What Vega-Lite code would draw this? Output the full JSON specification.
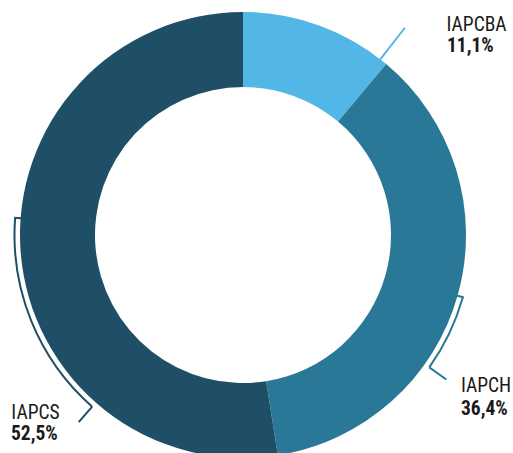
{
  "$schema": "https://vega.github.io/schema/vega-lite/v6.json",
  "width": 486,
  "height": 436,
  "autosize": "none",
  "padding": {"left": 0, "top": 17, "right": 27, "bottom": 0},
  "background": "white",
  "config": {
    "view": {"stroke": null},
    "locale": {"number": {"decimal": ",", "thousands": ".", "grouping": [3], "currency": ["", " €"]}}
  },
  "data": {"values": [
    {"category": "IAPCBA", "share": 0.111},
    {"category": "IAPCH", "share": 0.364},
    {"category": "IAPCS", "share": 0.525}
  ]},
  "transform": [
    {"stack": "share", "groupby": [], "as": ["s0", "s1"], "sort": [{"field": "category", "order": "ascending"}]}
  ],
  "layer": [
    {
      "mark": {"type": "arc", "innerRadius": 148, "outerRadius": 223},
      "encoding": {
        "theta": {"field": "s0", "type": "quantitative", "stack": null, "scale": {"domain": [0, 1]}},
        "theta2": {"field": "s1"},
        "color": {"field": "category", "type": "nominal", "legend": null,
          "scale": {"domain": ["IAPCBA", "IAPCH", "IAPCS"], "range": ["#52b6e6", "#2a7898", "#1f4f67"]}}
      }
    },
    {
      "transform": [{"filter": "datum.category === 'IAPCH'"}],
      "mark": {"type": "arc", "filled": false, "strokeWidth": 2, "innerRadius": 228.5, "outerRadius": 228.5, "thetaOffset": 1.1491, "theta2Offset": 1.4912},
      "encoding": {
        "theta": {"field": "s0", "type": "quantitative", "stack": null, "scale": {"domain": [0, 1]}},
        "theta2": {"field": "s0"},
        "color": {"field": "category", "type": "nominal", "legend": null}
      }
    },
    {
      "transform": [{"filter": "datum.category === 'IAPCH'"}],
      "mark": {"type": "arc", "filled": false, "strokeWidth": 2, "innerRadius": 222, "outerRadius": 229.5, "thetaOffset": 1.1491, "theta2Offset": 1.1491},
      "encoding": {
        "theta": {"field": "s0", "type": "quantitative", "stack": null, "scale": {"domain": [0, 1]}},
        "theta2": {"field": "s0"},
        "color": {"field": "category", "type": "nominal", "legend": null}
      }
    },
    {
      "transform": [{"filter": "datum.category === 'IAPCH'"}],
      "mark": {"type": "arc", "filled": false, "strokeWidth": 2, "innerRadius": 228.5, "outerRadius": 249.5, "thetaOffset": 1.4912, "theta2Offset": 1.4912},
      "encoding": {
        "theta": {"field": "s0", "type": "quantitative", "stack": null, "scale": {"domain": [0, 1]}},
        "theta2": {"field": "s0"},
        "color": {"field": "category", "type": "nominal", "legend": null}
      }
    },
    {
      "transform": [{"filter": "datum.category === 'IAPCS'"}],
      "mark": {"type": "arc", "filled": false, "strokeWidth": 2, "innerRadius": 228.5, "outerRadius": 228.5, "thetaOffset": 0.8779, "theta2Offset": 1.8029},
      "encoding": {
        "theta": {"field": "s0", "type": "quantitative", "stack": null, "scale": {"domain": [0, 1]}},
        "theta2": {"field": "s0"},
        "color": {"field": "category", "type": "nominal", "legend": null}
      }
    },
    {
      "transform": [{"filter": "datum.category === 'IAPCS'"}],
      "mark": {"type": "arc", "filled": false, "strokeWidth": 2, "innerRadius": 222, "outerRadius": 229.5, "thetaOffset": 1.8029, "theta2Offset": 1.8029},
      "encoding": {
        "theta": {"field": "s0", "type": "quantitative", "stack": null, "scale": {"domain": [0, 1]}},
        "theta2": {"field": "s0"},
        "color": {"field": "category", "type": "nominal", "legend": null}
      }
    },
    {
      "transform": [{"filter": "datum.category === 'IAPCS'"}],
      "mark": {"type": "arc", "filled": false, "strokeWidth": 2, "innerRadius": 228.5, "outerRadius": 249, "thetaOffset": 0.8779, "theta2Offset": 0.8779},
      "encoding": {
        "theta": {"field": "s0", "type": "quantitative", "stack": null, "scale": {"domain": [0, 1]}},
        "theta2": {"field": "s0"},
        "color": {"field": "category", "type": "nominal", "legend": null}
      }
    },
    {
      "transform": [{"filter": "datum.category === 'IAPCBA'"}],
      "mark": {"type": "arc", "filled": false, "strokeWidth": 2, "innerRadius": 221, "outerRadius": 263, "thetaOffset": 0.6632, "theta2Offset": 0.6632},
      "encoding": {
        "theta": {"field": "s0", "type": "quantitative", "stack": null, "scale": {"domain": [0, 1]}},
        "theta2": {"field": "s0"},
        "color": {"field": "category", "type": "nominal", "legend": null}
      }
    },
    {
      "transform": [{"filter": "datum.category === 'IAPCBA'"}],
      "mark": {"type": "text", "radius": 288.4, "thetaOffset": 0.7836, "align": "left", "baseline": "alphabetic", "fontSize": 19.5, "font": "'Noto Sans Condensed', 'Noto Sans Cond', 'Roboto Condensed', Roboto", "color": "#1a1a1a"},
      "encoding": {
        "theta": {"field": "s0", "type": "quantitative", "stack": null, "scale": {"domain": [0, 1]}},
        "text": {"field": "category"}
      }
    },
    {
      "transform": [{"filter": "datum.category === 'IAPCBA'"}],
      "mark": {"type": "text", "radius": 273.7, "thetaOffset": 0.8409, "align": "left", "baseline": "alphabetic", "fontSize": 19.5, "fontWeight": "bold", "font": "'Noto Sans Condensed', 'Noto Sans Cond', 'Roboto Condensed', Roboto", "color": "#1a1a1a"},
      "encoding": {
        "theta": {"field": "s0", "type": "quantitative", "stack": null, "scale": {"domain": [0, 1]}},
        "text": {"field": "share", "format": ".1%"}
      }
    },
    {
      "transform": [{"filter": "datum.category === 'IAPCH'"}],
      "mark": {"type": "text", "radius": 268.8, "thetaOffset": 1.4990, "align": "left", "baseline": "alphabetic", "fontSize": 19.5, "font": "'Noto Sans Condensed', 'Noto Sans Cond', 'Roboto Condensed', Roboto", "color": "#1a1a1a"},
      "encoding": {
        "theta": {"field": "s0", "type": "quantitative", "stack": null, "scale": {"domain": [0, 1]}},
        "text": {"field": "category"}
      }
    },
    {
      "transform": [{"filter": "datum.category === 'IAPCH'"}],
      "mark": {"type": "text", "radius": 282.7, "thetaOffset": 1.5635, "align": "left", "baseline": "alphabetic", "fontSize": 19.5, "fontWeight": "bold", "font": "'Noto Sans Condensed', 'Noto Sans Cond', 'Roboto Condensed', Roboto", "color": "#1a1a1a"},
      "encoding": {
        "theta": {"field": "s0", "type": "quantitative", "stack": null, "scale": {"domain": [0, 1]}},
        "text": {"field": "share", "format": ".1%"}
      }
    },
    {
      "transform": [{"filter": "datum.category === 'IAPCS'"}],
      "mark": {"type": "text", "radius": 296.0, "thetaOffset": 1.0560, "align": "left", "baseline": "alphabetic", "fontSize": 19.5, "font": "'Noto Sans Condensed', 'Noto Sans Cond', 'Roboto Condensed', Roboto", "color": "#1a1a1a"},
      "encoding": {
        "theta": {"field": "s0", "type": "quantitative", "stack": null, "scale": {"domain": [0, 1]}},
        "text": {"field": "category"}
      }
    },
    {
      "transform": [{"filter": "datum.category === 'IAPCS'"}],
      "mark": {"type": "text", "radius": 309.6, "thetaOffset": 1.0041, "align": "left", "baseline": "alphabetic", "fontSize": 19.5, "fontWeight": "bold", "font": "'Noto Sans Condensed', 'Noto Sans Cond', 'Roboto Condensed', Roboto", "color": "#1a1a1a"},
      "encoding": {
        "theta": {"field": "s0", "type": "quantitative", "stack": null, "scale": {"domain": [0, 1]}},
        "text": {"field": "share", "format": ".1%"}
      }
    }
  ]
}
